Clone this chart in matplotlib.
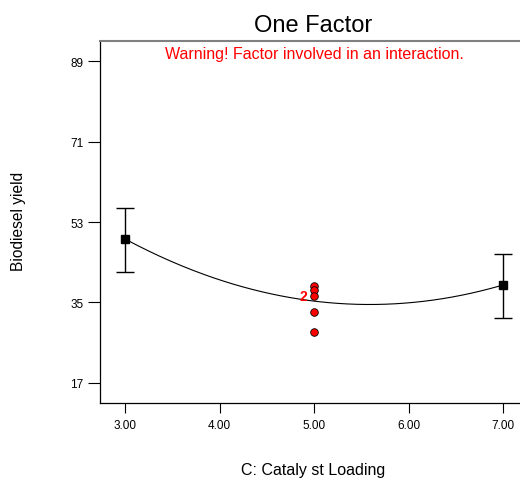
import matplotlib
matplotlib.use("Agg")
import matplotlib.pyplot as plt
import numpy as np

plt.rcParams['font.family'] = ['Liberation Sans', 'DejaVu Sans']

# Data
design_x = [3.0, 7.0]
design_y = [49.2, 38.9]
err_lo = [41.8, 31.5]
err_hi = [56.1, 45.8]
center_x = [5.0, 5.0, 5.0, 5.0, 5.0]
center_y = [38.7, 37.8, 36.4, 32.8, 28.4]
curve_pts_x = [3.0, 5.0, 7.0]
curve_pts_y = [49.2, 35.3, 38.9]
xticks = [3.0, 4.0, 5.0, 6.0, 7.0]
yticks = [17, 35, 53, 71, 89]

fig = plt.figure(figsize=(5.2, 4.81), dpi=100)
ax = fig.add_axes([100/520, 1-404/481, 1-100/520, (404-42)/481])

coef = np.polyfit(curve_pts_x, curve_pts_y, 2)
xs = np.linspace(3.0, 7.0, 200)
ax.plot(xs, np.polyval(coef, xs), color='black', lw=0.8)

yerr = [np.array(design_y) - np.array(err_lo), np.array(err_hi) - np.array(design_y)]
ax.errorbar(design_x, design_y, yerr=yerr, fmt='s', color='black', ms=5.3,
            capsize=6.5, elinewidth=1.0, capthick=1.0)

ax.scatter(center_x, center_y, s=30, facecolor='red', edgecolor='black', linewidths=0.6, zorder=5)
ax.text(4.93, 36.4, '2', color='red', fontsize=10, fontweight='bold', ha='right', va='center')

ax.set_xlim(2.735, 7.18)
ax.set_ylim(12.5, 93.5)
ax.set_xticks(xticks)
ax.set_xticklabels([f'{v:.2f}' for v in xticks])
ax.set_yticks(yticks)
ax.tick_params(axis='x', direction='out', length=7.2, width=0.8, labelsize=8.5, colors='black', pad=4.5)
ax.tick_params(axis='y', direction='out', length=8.5, width=0.8, labelsize=8.5, colors='black', pad=3.5)

ax.spines['right'].set_visible(False)
ax.spines['top'].set_color('#808080')
ax.spines['top'].set_linewidth(1.5)
ax.spines['left'].set_linewidth(0.9)
ax.spines['bottom'].set_linewidth(0.9)

fig.text(313/520, 1-26.5/481, 'One Factor', ha='center', va='center', fontsize=17)
fig.text(314/520, 1-55/481, 'Warning! Factor involved in an interaction.', ha='center', va='center',
         fontsize=11.5, color='red')
fig.text(19/520, 1-221/481, 'Biodiesel yield', rotation=90, ha='center', va='center', fontsize=11.2)
fig.text(313/520, 1-471/481, 'C: Cataly st Loading', ha='center', va='center', fontsize=11.5)

fig.savefig('out.png', dpi=100)
